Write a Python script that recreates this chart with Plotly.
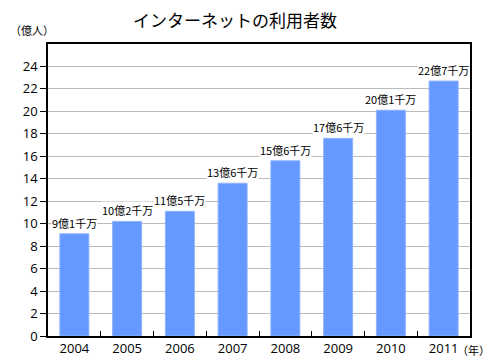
import plotly.graph_objects as go

years = ["2004", "2005", "2006", "2007", "2008", "2009", "2010", "2011"]
users = [9.1, 10.2, 11.1, 13.6, 15.6, 17.6, 20.1, 22.7]
labels = ["9億1千万", "10億2千万", "11億5千万", "13億6千万", "15億6千万", "17億6千万", "20億1千万", "22億7千万"]
yticks = list(range(0, 25, 2))

font_jp = "Noto Sans CJK JP"

fig = go.Figure()
fig.add_trace(go.Bar(
    x=years, y=users, width=0.55,
    marker=dict(color="#6699ff", line=dict(color="#8fb3ff", width=1)),
    hoverinfo="skip",
))

for i, (y, t) in enumerate(zip(users, labels)):
    fig.add_annotation(x=i, y=y, text=t, showarrow=False, yanchor="bottom",
                       yshift=2, bgcolor="white", borderpad=0,
                       font=dict(family=font_jp, size=11, color="black"))

fig.add_annotation(xref="paper", yref="paper", x=0.443, y=1, yshift=25,
                   text="インターネットの利用者数", showarrow=False,
                   xanchor="center", yanchor="middle",
                   font=dict(family=font_jp, size=17, color="black"))
fig.add_annotation(xref="paper", yref="paper", x=0, y=1, yshift=4, xshift=-40,
                   text="（億人）", showarrow=False, xanchor="left", yanchor="bottom",
                   font=dict(family=font_jp, size=11, color="black"))
fig.add_annotation(xref="paper", yref="paper", x=1, y=0, yshift=-4, xshift=-15,
                   text="（年）", showarrow=False, xanchor="left", yanchor="top",
                   font=dict(family=font_jp, size=11, color="black"))

fig.update_layout(
    width=489, height=352,
    margin=dict(l=40, r=27, t=36, b=24),
    plot_bgcolor="white", paper_bgcolor="white",
    showlegend=False, bargap=0.45,
    font=dict(family="Open Sans", size=13, color="black"),
)
fig.update_xaxes(
    type="category", range=[-0.5, len(years) - 0.5], automargin=False,
    showline=True, linecolor="black", linewidth=1.5, mirror=True,
    ticks="inside", tickson="boundaries", ticklen=5, tickcolor="black",
    showgrid=False, tickfont=dict(size=13),
)
fig.update_yaxes(
    range=[0, 26], tickvals=yticks, automargin=False, showline=True, linecolor="black",
    linewidth=1.5, mirror=True, ticks="outside", ticklen=6, tickcolor="black",
    showgrid=True, gridcolor="#bbbbbb", gridwidth=1, zeroline=False,
    tickfont=dict(size=13),
)

fig.write_html("out.html")
